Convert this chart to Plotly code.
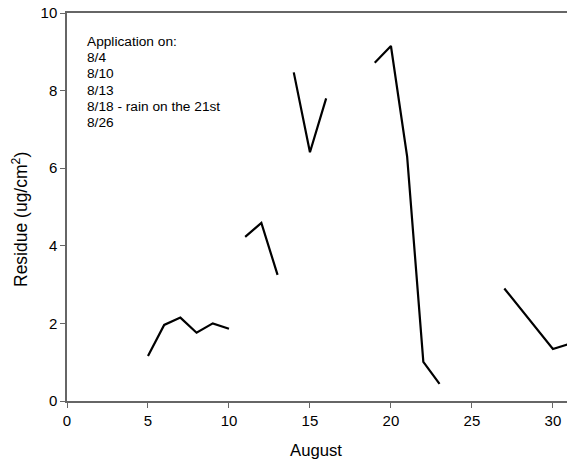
import plotly.graph_objects as go

# Application periods (August day, residue ug/cm2)
days_aug4 = [5, 6, 7, 8, 9, 10]
res_aug4 = [1.16, 1.96, 2.15, 1.76, 2.0, 1.86]
days_aug10 = [11, 12, 13]
res_aug10 = [4.23, 4.59, 3.25]
days_aug13 = [14, 15, 16]
res_aug13 = [8.47, 6.41, 7.80]
days_aug18 = [19, 20, 21, 22, 23]
res_aug18 = [8.72, 9.15, 6.30, 1.01, 0.44]
days_aug26 = [27, 30, 31]
res_aug26 = [2.90, 1.34, 1.47]

x_ticks = [0, 5, 10, 15, 20, 25, 30]
y_ticks = [0, 2, 4, 6, 8, 10]

note_lines = ["Application on:", "8/4", "8/10", "8/13", "8/18 - rain on the 21st", "8/26"]

W, H = 567, 466
L, R, T, B = 67, 0, 13, 65
PW, PH = W - L - R, H - T - B

fig = go.Figure()
for xs, ys in [(days_aug4, res_aug4), (days_aug10, res_aug10), (days_aug13, res_aug13),
               (days_aug18, res_aug18), (days_aug26, res_aug26)]:
    fig.add_trace(go.Scatter(x=xs, y=ys, mode="lines",
                             line=dict(color="black", width=2.2),
                             showlegend=False, hoverinfo="skip"))

axis_color = "#666666"
fig.update_layout(
    width=W, height=H,
    margin=dict(l=L, r=R, t=T, b=B, autoexpand=False),
    paper_bgcolor="white", plot_bgcolor="white",
    font=dict(family="Arial, Liberation Sans, sans-serif", color="black", size=15),
    xaxis=dict(range=[0, 30.87], tickvals=x_ticks, ticks="outside", ticklen=5,
               tickcolor=axis_color, showline=True, linecolor=axis_color, linewidth=1.5,
               mirror=True, showgrid=False, zeroline=False, automargin=False,
               tickfont=dict(size=15)),
    yaxis=dict(range=[0, 10], tickvals=y_ticks, ticks="outside", ticklen=5,
               tickcolor=axis_color, showline=True, linecolor=axis_color, linewidth=1.5,
               showgrid=False, zeroline=False, automargin=False,
               tickfont=dict(size=15)),
)

def px_x(p):
    return (p - L) / PW

def px_y(p):
    return (H - B - p) / PH

# axis titles
fig.add_annotation(xref="paper", yref="paper", x=px_x(316), y=px_y(450),
                   xanchor="center", yanchor="middle", showarrow=False,
                   text="August", font=dict(size=16.7, color="black"))
fig.add_annotation(xref="paper", yref="paper", x=px_x(20), y=px_y(220),
                   xanchor="center", yanchor="middle", showarrow=False, textangle=-90,
                   text="Residue (ug/cm<sup>2</sup>)", font=dict(size=17.5, color="black"))

# note block, one line each
first_mid, pitch = 41.5, 16.2
for i, line in enumerate(note_lines):
    fig.add_annotation(xref="paper", yref="paper", x=px_x(85), y=px_y(first_mid + i * pitch),
                       xanchor="left", yanchor="middle", showarrow=False, align="left",
                       text=line, font=dict(size=13.7, color="black"))

fig.write_html("out.html", config={"displayModeBar": False},
               post_script="document.body.style.margin='0';document.body.style.overflow='hidden';")
